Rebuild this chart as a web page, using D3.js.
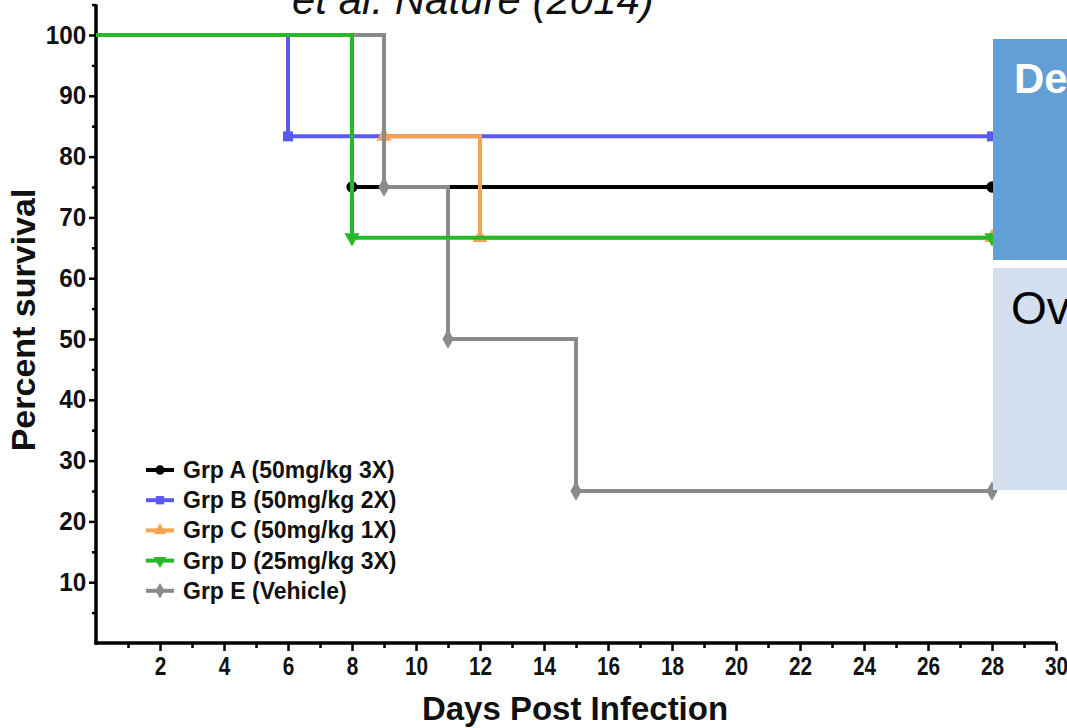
<!DOCTYPE html>
<html><head><meta charset="utf-8">
<script src="https://cdn.jsdelivr.net/npm/d3@7"></script>
<style>body{margin:0;background:#fff;} svg{display:block;}</style>
</head><body>
<svg id="c" width="1067" height="728"></svg>
<script>
const groupNames = ["Grp A (50mg/kg 3X)","Grp B (50mg/kg 2X)","Grp C (50mg/kg 1X)","Grp D (25mg/kg 3X)","Grp E (Vehicle)"];
const groupColors = ["#000000","#5a5af2","#f9a24f","#27b927","#8a8a8a"];
const groupSymbols = ["circle","square","triangle","triangleDown","diamond"];
const timesA = [0,8,28],        survA = [100,75,75];
const timesB = [0,6,28],        survB = [100,83.33,83.33];
const timesC = [0,9,12,28],     survC = [100,83.33,66.67,66.67];
const timesD = [0,8,28],        survD = [100,66.67,66.67];
const timesE = [0,9,11,15,28],  survE = [100,75,50,25,25];
const xMajorTicks = [2,4,6,8,10,12,14,16,18,20,22,24,26,28,30];
const yMajorTicks = [10,20,30,40,50,60,70,80,90,100];

const series = [
  {t:timesA,s:survA},{t:timesB,s:survB},{t:timesC,s:survC},{t:timesD,s:survD},{t:timesE,s:survE}
].map((d,i)=>({name:groupNames[i],color:groupColors[i],sym:groupSymbols[i],pts:d.t.map((t,j)=>({t,s:d.s[j]}))}));

const svg = d3.select("#c");
const x = d3.scaleLinear().domain([0,30]).range([96,1056]);
const y = d3.scaleLinear().domain([0,105]).range([643,4.6]);
const font = "'Liberation Sans', Arial, sans-serif";

// Title fragment
svg.append("text").attr("x",292).attr("y",14).attr("font-family",font).attr("font-style","italic")
  .attr("font-size",42).attr("fill","#111").text("et al. Nature (2014)");

// Axes
const yAxis = svg.append("g").attr("transform","translate(96,0)");
yAxis.call(d3.axisLeft(y).tickValues(yMajorTicks).tickSize(7).tickPadding(3).tickSizeOuter(0));
yAxis.append("g").call(d3.axisLeft(y).tickValues(d3.range(5,106,10)).tickSize(4).tickFormat("").tickSizeOuter(0));
yAxis.selectAll(".domain").attr("stroke","#000").attr("stroke-width",3);
yAxis.selectAll(".tick line").attr("stroke","#000").attr("stroke-width",2.5);
yAxis.selectAll("text").attr("font-family",font).attr("font-weight","bold").attr("font-size",25).attr("fill","#111")
  .attr("transform","scale(0.97,1)");
yAxis.selectAll(".domain").attr("d",`M0,${y(105)}V${y(0)+1.5}`);

const xAxis = svg.append("g").attr("transform","translate(0,643)");
xAxis.call(d3.axisBottom(x).tickValues(xMajorTicks).tickSize(8).tickPadding(6).tickSizeOuter(0));
xAxis.append("g").call(d3.axisBottom(x).tickValues(d3.range(1,30,2)).tickSize(5).tickFormat("").tickSizeOuter(0));
xAxis.selectAll(".domain").attr("stroke","#000").attr("stroke-width",3).attr("d",`M${x(0)-1.5},0H${x(30)}`);
xAxis.selectAll(".tick line").attr("stroke","#000").attr("stroke-width",2.5);
xAxis.selectAll("text").attr("font-family",font).attr("font-weight","bold").attr("font-size",26).attr("fill","#111")
  .attr("transform","scale(0.8,1)");

// Axis titles
svg.append("text").attr("x",575).attr("y",720).attr("text-anchor","middle").attr("font-family",font)
  .attr("font-weight","bold").attr("font-size",33).attr("fill","#111").text("Days Post Infection");
svg.append("text").attr("transform","translate(35,320) rotate(-90)").attr("text-anchor","middle").attr("font-family",font)
  .attr("font-weight","bold").attr("font-size",34).attr("fill","#111").text("Percent survival");

// Step lines (draw order A,B,C,E,D)
const line = d3.line().x(d=>x(d.t)).y(d=>y(d.s)).curve(d3.curveStepAfter);
const symMap = {circle:d3.symbolCircle,square:d3.symbolSquare,triangle:d3.symbolTriangle,triangleDown:d3.symbolTriangle,diamond:d3.symbolDiamond};
const order = [0,1,2,4,3];
order.forEach(i=>{
  const s = series[i];
  svg.append("path").attr("d",line(s.pts)).attr("fill","none").attr("stroke",s.color).attr("stroke-width",4);
  s.pts.slice(1).forEach(p=>{
    svg.append("path").attr("d",d3.symbol().type(symMap[s.sym]).size(s.sym==="diamond"?110:100)())
      .attr("transform",`translate(${x(p.t)},${y(p.s)})${s.sym==="triangleDown"?" rotate(180)":""}`)
      .attr("fill",s.color);
  });
});

// Legend
const lg = svg.append("g");
series.forEach((s,i)=>{
  const yy = 470 + i*30.2;
  lg.append("line").attr("x1",146).attr("x2",174).attr("y1",yy).attr("y2",yy).attr("stroke",s.color).attr("stroke-width",4);
  lg.append("path").attr("d",d3.symbol().type(symMap[s.sym]).size(70)())
    .attr("transform",`translate(160,${yy})${s.sym==="triangleDown"?" rotate(180)":""}`).attr("fill",s.color);
  lg.append("text").attr("x",183).attr("y",yy+8).attr("font-family",font).attr("font-weight","bold")
    .attr("font-size",23).attr("fill","#111").text(s.name);
});

// Overlapping slide boxes on the right
svg.append("rect").attr("x",993).attr("y",39).attr("width",80).attr("height",221).attr("fill","#629fd4");
svg.append("text").attr("x",1014).attr("y",93).attr("font-family",font).attr("font-weight","bold")
  .attr("font-size",42).attr("fill","#fff").text("De");
svg.append("rect").attr("x",993).attr("y",268).attr("width",80).attr("height",222).attr("fill","#d3dfef");
svg.append("text").attr("x",1011).attr("y",324).attr("font-family",font)
  .attr("font-size",46).attr("fill","#000").text("Ov");
</script>
</body></html>
